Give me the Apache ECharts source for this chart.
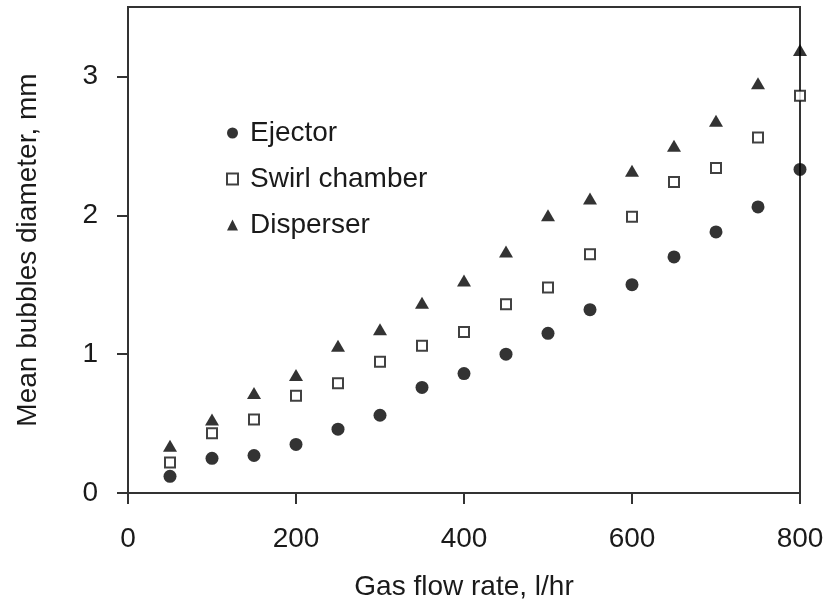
<!DOCTYPE html>
<html>
<head>
<meta charset="utf-8">
<script src="https://cdn.jsdelivr.net/npm/echarts@6/dist/echarts.min.js"></script>
<style>
    html, body { margin: 0; padding: 0; background: #fff; }
    #chart { width: 824px; height: 604px; }
</style>
</head>
<body>
<div id="chart"></div>
<script>
// gas flow rate, l/hr
var flowRate = [50, 100, 150, 200, 250, 300, 350, 400, 450, 500, 550, 600, 650, 700, 750, 800];
// mean bubbles diameter, mm
var ejector = [0.12, 0.25, 0.27, 0.35, 0.46, 0.56, 0.76, 0.86, 1.00, 1.15, 1.32, 1.50, 1.70, 1.88, 2.06, 2.33];
var swirlChamber = [0.22, 0.43, 0.53, 0.70, 0.79, 0.945, 1.06, 1.16, 1.36, 1.48, 1.72, 1.99, 2.24, 2.34, 2.56, 2.86];
var disperser = [0.34, 0.53, 0.72, 0.85, 1.06, 1.18, 1.37, 1.53, 1.74, 2.00, 2.12, 2.32, 2.50, 2.68, 2.95, 3.19];
var xTicks = [0, 200, 400, 600, 800];
var yTicks = [0, 1, 2, 3];

var fontName = "'Liberation Sans', Arial, sans-serif";
var ink = '#1a1a1a';

function pairs(values) {
    var out = [];
    for (var i = 0; i < flowRate.length; i++) {
        out.push([flowRate[i], values[i]]);
    }
    return out;
}

var myChart = echarts.init(document.getElementById('chart'));
var option = {
    animation: false,
    backgroundColor: '#fff',
    textStyle: { fontFamily: fontName },
    grid: {
        left: 128, right: 24, top: 7, bottom: 111,
        outerBoundsMode: 'none',
        containLabel: false,
        show: true,
        borderColor: '#333',
        borderWidth: 2
    },
    legend: {
        orient: 'vertical',
        left: 221,
        top: 114,
        itemWidth: 11,
        itemHeight: 11,
        itemGap: 18,
        textStyle: {
            fontFamily: fontName,
            fontSize: 28,
            lineHeight: 28,
            color: ink,
            padding: [0, 0, 0, 7]
        },
        data: ['Ejector', 'Swirl chamber', 'Disperser']
    },
    xAxis: {
        type: 'value',
        min: 0,
        max: 800,
        interval: 200,
        name: 'Gas flow rate, l/hr',
        nameLocation: 'middle',
        nameGap: 80,
        nameTextStyle: { fontFamily: fontName, fontSize: 28, color: ink },
        splitLine: { show: false },
        axisLine: { lineStyle: { color: '#333', width: 2 } },
        axisTick: { length: 11, lineStyle: { color: '#333', width: 2 }, customValues: xTicks },
        axisLabel: { margin: 32, fontFamily: fontName, fontSize: 28, color: ink, customValues: xTicks }
    },
    yAxis: {
        type: 'value',
        min: 0,
        max: 3.5,
        interval: 1,
        name: 'Mean bubbles diameter, mm',
        nameLocation: 'middle',
        nameGap: 86,
        nameTextStyle: { fontFamily: fontName, fontSize: 28, color: ink },
        splitLine: { show: false },
        axisLine: { lineStyle: { color: '#333', width: 2 } },
        axisTick: { length: 11, lineStyle: { color: '#333', width: 2 }, customValues: yTicks },
        axisLabel: { margin: 30, fontFamily: fontName, fontSize: 28, color: ink, customValues: yTicks }
    },
    series: [{
        name: 'Ejector',
        type: 'scatter',
        symbol: 'circle',
        symbolSize: 13,
        itemStyle: { color: '#000' },
        data: pairs(ejector)
    }, {
        name: 'Swirl chamber',
        type: 'scatter',
        symbol: 'rect',
        symbolSize: 10,
        itemStyle: { color: '#fff', borderColor: '#111', borderWidth: 2 },
        data: pairs(swirlChamber)
    }, {
        name: 'Disperser',
        type: 'scatter',
        symbol: 'triangle',
        symbolSize: [14, 12],
        itemStyle: { color: '#000' },
        data: pairs(disperser)
    }]
};
myChart.setOption(option);
</script>
</body>
</html>
